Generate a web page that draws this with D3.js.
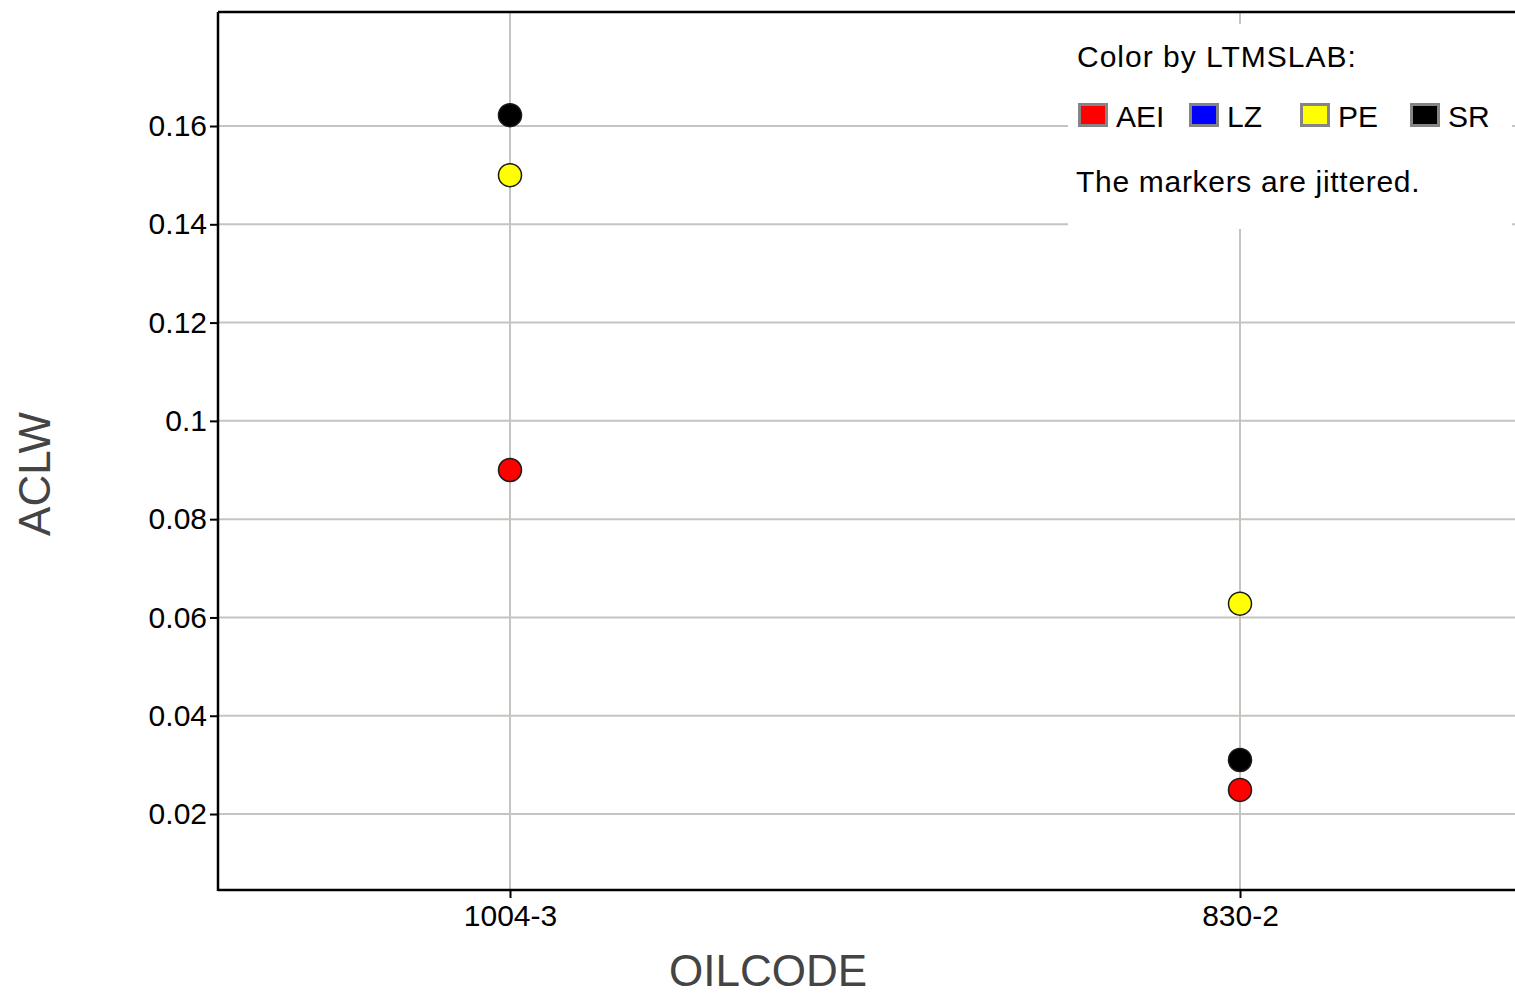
<!DOCTYPE html>
<html>
<head>
<meta charset="utf-8">
<script src="https://cdn.jsdelivr.net/npm/d3@7"></script>
<style>
  html, body { margin: 0; padding: 0; background: #fff; }
  svg { display: block; }
  text { font-family: "Liberation Sans", Arial, sans-serif; }
</style>
</head>
<body>
<svg id="chart" width="1515" height="995"></svg>
<script>
// Categories on the x axis
const oilcodes = ["1004-3", "830-2"];
// Lab groups used for colour
const labs = ["AEI", "LZ", "PE", "SR"];
const labColors = ["#ff0000", "#0000ff", "#ffff00", "#000000"];
// Observations: oil code, lab, ACLW value
const obsOilcode = ["1004-3", "1004-3", "1004-3", "830-2", "830-2", "830-2"];
const obsLab     = ["SR",     "PE",     "AEI",    "PE",    "SR",    "AEI"];
const obsValue   = [0.1622,   0.1500,   0.0900,   0.0628,  0.0310,  0.0249];
// Y tick values
const yTicks = [0.02, 0.04, 0.06, 0.08, 0.10, 0.12, 0.14, 0.16];
const yTickLabels = ["0.02", "0.04", "0.06", "0.08", "0.1", "0.12", "0.14", "0.16"];

const svg = d3.select("#chart");
const plotLeft = 218, plotRight = 1532, plotTop = 12, plotBottom = 890;

const x = d3.scalePoint().domain(oilcodes).range([plotLeft, plotRight]).padding(0.4);
const y = d3.scaleLinear().domain([0.00454, 0.1832]).range([plotBottom, plotTop]);
const color = d3.scaleOrdinal().domain(labs).range(labColors);

const data = obsValue.map((v, i) => ({ code: obsOilcode[i], lab: obsLab[i], value: v }));

// Grid lines
const grid = svg.append("g").attr("stroke", "#c4c4c0").attr("stroke-width", 2);
grid.selectAll("line.h").data(yTicks).join("line")
  .attr("x1", plotLeft).attr("x2", plotRight)
  .attr("y1", d => y(d)).attr("y2", d => y(d));
grid.selectAll("line.v").data(oilcodes).join("line")
  .attr("x1", d => x(d)).attr("x2", d => x(d))
  .attr("y1", plotTop).attr("y2", plotBottom);

// Legend panel (blanks the grid beneath it)
const lg = svg.append("g");
lg.append("rect").attr("x", 1068).attr("y", 24).attr("width", 444).attr("height", 205).attr("fill", "#fff");
lg.append("text").attr("x", 1077).attr("y", 67).attr("font-size", 30).attr("fill", "#000")
  .attr("letter-spacing", 1).text("Color by LTMSLAB:");
const swX = [1078, 1189, 1300, 1410];
labs.forEach((l, i) => {
  lg.append("rect").attr("x", swX[i] + 1.5).attr("y", 104.5).attr("width", 27).attr("height", 21)
    .attr("fill", color(l)).attr("stroke", "#858585").attr("stroke-width", 3);
  lg.append("text").attr("x", swX[i] + 38).attr("y", 127).attr("font-size", 30).attr("fill", "#000").text(l);
});
lg.append("text").attr("x", 1076).attr("y", 192).attr("font-size", 30).attr("fill", "#000")
  .attr("letter-spacing", 0.7).text("The markers are jittered.");

// Axes
const yAxis = d3.axisLeft(y).tickValues(yTicks).tickSize(8).tickPadding(3)
  .tickFormat((d, i) => yTickLabels[i]);
const gy = svg.append("g").attr("transform", `translate(${plotLeft},0)`).call(yAxis);
gy.select(".domain").remove();
gy.selectAll(".tick line").attr("stroke", "#000").attr("stroke-width", 2);
gy.selectAll(".tick text").attr("font-size", 30).attr("fill", "#000")
  .attr("font-family", "'Liberation Sans', Arial, sans-serif");

const xAxis = d3.axisBottom(x).tickSize(8).tickPadding(7);
const gx = svg.append("g").attr("transform", `translate(0,${plotBottom})`).call(xAxis);
gx.select(".domain").remove();
gx.selectAll(".tick line").attr("stroke", "#000").attr("stroke-width", 2);
gx.selectAll(".tick text").attr("font-size", 30).attr("fill", "#000")
  .attr("font-family", "'Liberation Sans', Arial, sans-serif");

// Frame: left, bottom and top edges
const frame = svg.append("g").attr("stroke", "#000").attr("stroke-width", 2.5);
frame.append("line").attr("x1", plotLeft).attr("x2", plotLeft).attr("y1", plotTop).attr("y2", plotBottom + 1);
frame.append("line").attr("x1", plotLeft).attr("x2", plotRight).attr("y1", plotBottom).attr("y2", plotBottom);
frame.append("line").attr("x1", plotLeft).attr("x2", plotRight).attr("y1", plotTop).attr("y2", plotTop);

// Markers
svg.append("g").selectAll("circle").data(data).join("circle")
  .attr("cx", d => x(d.code)).attr("cy", d => y(d.value)).attr("r", 11.5)
  .attr("fill", d => color(d.lab)).attr("stroke", "#1a1a1a").attr("stroke-width", 1.5);

// Axis titles
svg.append("text").attr("x", 768).attr("y", 986).attr("text-anchor", "middle")
  .attr("font-size", 44).attr("fill", "#444").text("OILCODE");
svg.append("text").attr("transform", "translate(50,474) rotate(-90)").attr("text-anchor", "middle")
  .attr("font-size", 44).attr("fill", "#444").text("ACLW");
</script>
</body>
</html>
